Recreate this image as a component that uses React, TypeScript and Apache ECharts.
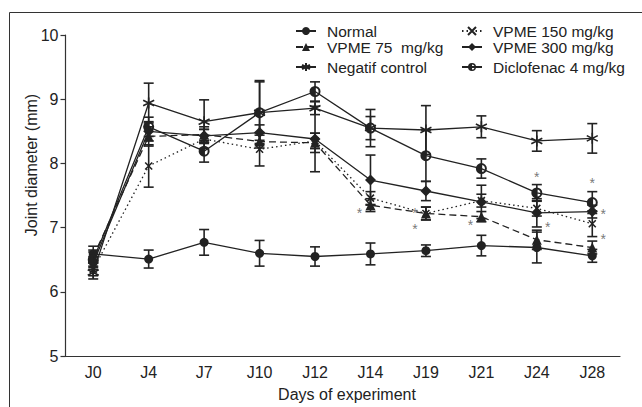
import React, { useEffect, useRef } from "react";
import * as echarts from "echarts";

const categories = ["J0", "J4", "J7", "J10", "J12", "J14", "J19", "J21", "J24", "J28"];

const normal = [6.59, 6.51, 6.77, 6.6, 6.55, 6.59, 6.64, 6.72, 6.69, 6.56];
const normalErr = [0.12, 0.14, 0.2, 0.2, 0.15, 0.17, 0.09, 0.16, 0.24, 0.1];

const vpme75 = [6.55, 8.42, 8.45, 8.34, 8.32, 7.35, 7.22, 7.17, 6.81, 6.69];
const vpme75Err = [0.1, 0.15, 0.12, 0.1, 0.15, 0.1, 0.1, 0.08, 0.15, 0.1];

const negatif = [6.3, 8.94, 8.65, 8.79, 8.86, 8.55, 8.52, 8.57, 8.35, 8.39];
const negatifErr = [0.1, 0.31, 0.34, 0.5, 0.1, 0.29, 0.38, 0.17, 0.16, 0.23];

const vpme150 = [6.35, 7.96, 8.38, 8.22, 8.35, 7.46, 7.22, 7.42, 7.3, 7.06];
const vpme150Err = [0.1, 0.33, 0.15, 0.26, 0.12, 0.1, 0.1, 0.1, 0.12, 0.2];

const vpme300 = [6.45, 8.5, 8.43, 8.48, 8.38, 7.74, 7.57, 7.4, 7.23, 7.25];
const vpme300Err = [0.1, 0.15, 0.1, 0.12, 0.51, 0.39, 0.15, 0.26, 0.22, 0.1];

const diclofenac = [6.5, 8.57, 8.19, 8.79, 9.12, 8.55, 8.12, 7.92, 7.54, 7.39];
const diclofenacErr = [0.12, 0.15, 0.17, 0.48, 0.15, 0.18, 0.4, 0.15, 0.13, 0.17];

const starsLeft = [["J14", 7.28], ["J19", 7.28], ["J19", 7.03], ["J21", 7.08]];
const starsRight = [["J24", 7.06], ["J28", 7.26], ["J28", 6.87]];
const starsTop = [["J24", 7.83], ["J28", 7.74]];

const yTicks = [5, 6, 7, 8, 9, 10];

const INK = "#222";
const FONT = "Liberation Sans, Arial, sans-serif";

const ASTERISK = "path://M5 0 L5 10 M0.67 2.5 L9.33 7.5 M0.67 7.5 L9.33 2.5";
const CROSS = "path://M0 0 L10 10 M0 10 L10 0";
const HALF_CIRCLE =
  "path://M0 5 A5 5 0 1 1 10 5 A5 5 0 1 1 0 5 Z M1.8 5 A3.2 3.2 0 1 0 8.2 5 A3.2 3.2 0 1 0 1.8 5 Z M5 1.8 A3.2 3.2 0 0 0 5 8.2 Z";

export default function App() {
  const ref = useRef<HTMLDivElement>(null);

  useEffect(() => {
    document.body.style.margin = "0";
    if (!ref.current) return;
    const chart = echarts.init(ref.current, null, { renderer: "svg" });

    const groups = [
      { name: "Normal", data: normal, err: normalErr, symbol: "circle", size: 9, dash: "solid", stroke: false },
      { name: "VPME 75  mg/kg", data: vpme75, err: vpme75Err, symbol: "triangle", size: 10, dash: [7, 4], stroke: false },
      { name: "Negatif control", data: negatif, err: negatifErr, symbol: ASTERISK, size: 11, dash: "solid", stroke: true },
      { name: "VPME 150 mg/kg", data: vpme150, err: vpme150Err, symbol: CROSS, size: 7, dash: [1.5, 3], stroke: true },
      { name: "VPME 300 mg/kg", data: vpme300, err: vpme300Err, symbol: "diamond", size: 11, dash: "solid", stroke: false },
      { name: "Diclofenac 4 mg/kg", data: diclofenac, err: diclofenacErr, symbol: HALF_CIRCLE, size: 11, dash: "solid", stroke: false },
    ];

    const lineSeries = groups.map((g) => ({
      name: g.name,
      type: "line",
      data: g.data,
      symbol: g.symbol,
      symbolSize: g.size,
      showSymbol: true,
      z: 3,
      lineStyle: { color: INK, width: 1.3, type: g.dash },
      itemStyle: g.stroke
        ? { color: INK, borderColor: INK, borderWidth: 1.6 }
        : { color: INK, borderColor: INK, borderWidth: 0 },
    }));

    const errSeries = groups.map((g) => ({
      name: g.name + " err",
      type: "custom",
      z: 2,
      silent: true,
      data: g.data.map((v, i) => [i, v - g.err[i], v + g.err[i]]),
      renderItem: (params: any, api: any) => {
        const x = api.value(0);
        const lo = api.coord([x, api.value(1)]);
        const hi = api.coord([x, api.value(2)]);
        const w = 5;
        const style = { stroke: INK, lineWidth: 1.6 };
        return {
          type: "group",
          children: [
            { type: "line", shape: { x1: lo[0], y1: lo[1], x2: hi[0], y2: hi[1] }, style },
            { type: "line", shape: { x1: hi[0] - w, y1: hi[1], x2: hi[0] + w, y2: hi[1] }, style },
            { type: "line", shape: { x1: lo[0] - w, y1: lo[1], x2: lo[0] + w, y2: lo[1] }, style },
          ],
        };
      },
    }));

    const starSeries = (data: any[], offset: number[]) => ({
      type: "scatter",
      data,
      symbolSize: 1,
      silent: true,
      z: 4,
      itemStyle: { color: "rgba(0,0,0,0)" },
      label: {
        show: true,
        formatter: "*",
        position: "inside",
        offset,
        color: "#555",
        fontSize: 14,
        fontFamily: FONT,
      },
    });

    const legendPos: any[] = [
      { name: "Normal", left: 295, top: 23 },
      { name: "VPME 75  mg/kg", left: 295, top: 39 },
      { name: "Negatif control", left: 295, top: 59 },
      { name: "VPME 150 mg/kg", left: 461, top: 23 },
      { name: "VPME 300 mg/kg", left: 461, top: 39 },
      { name: "Diclofenac 4 mg/kg", left: 461, top: 59 },
    ];

    chart.setOption({
      animation: false,
      grid: { left: 65.5, right: 22, top: 35, bottom: 51, containLabel: false },
      legend: legendPos.map((l) => ({
        data: [l.name],
        left: l.left,
        top: l.top,
        orient: "vertical",
        itemWidth: 20,
        itemHeight: 10,
        padding: 0,
        selectedMode: false,
        textStyle: { fontSize: 15.5, fontFamily: FONT, color: INK, padding: [0, 0, 0, 6], lineHeight: 15 },
      })),
      xAxis: {
        type: "category",
        data: categories,
        boundaryGap: true,
        axisLine: { lineStyle: { color: "#333", width: 1.2 } },
        axisTick: { alignWithLabel: true, length: 5, lineStyle: { color: "#333", width: 1.2 } },
        axisLabel: { fontSize: 16, fontFamily: FONT, color: INK, margin: 8 },
        splitLine: { show: false },
      },
      yAxis: {
        type: "value",
        min: yTicks[0],
        max: yTicks[yTicks.length - 1],
        interval: 1,
        axisLine: { show: true, lineStyle: { color: "#333", width: 1.2 } },
        axisTick: { show: true, length: 5, lineStyle: { color: "#333", width: 1.2 } },
        axisLabel: { fontSize: 16, fontFamily: FONT, color: INK, margin: 7 },
        splitLine: { show: false },
      },
      graphic: [
        {
          type: "rect",
          shape: { x: 9.5, y: 12.5, width: 700, height: 500 },
          style: { fill: "none", stroke: "#333", lineWidth: 1 },
          silent: true,
        },
        {
          type: "text",
          x: 31.5,
          y: 165,
          rotation: Math.PI / 2,
          style: {
            text: "Joint diameter (mm)",
            fontSize: 16,
            fontFamily: FONT,
            fill: INK,
            align: "center",
            verticalAlign: "middle",
          },
        },
        {
          type: "text",
          x: 347,
          y: 394,
          style: {
            text: "Days of experiment",
            fontSize: 16,
            fontFamily: FONT,
            fill: INK,
            align: "center",
            verticalAlign: "middle",
          },
        },
      ],
      series: [
        ...errSeries,
        ...lineSeries,
        starSeries(starsLeft, [-11, 3]),
        starSeries(starsRight, [11, 3]),
        starSeries(starsTop, [0, 3]),
      ],
    });

    return () => chart.dispose();
  }, []);

  return <div ref={ref} style={{ width: 642, height: 407 }} />;
}
